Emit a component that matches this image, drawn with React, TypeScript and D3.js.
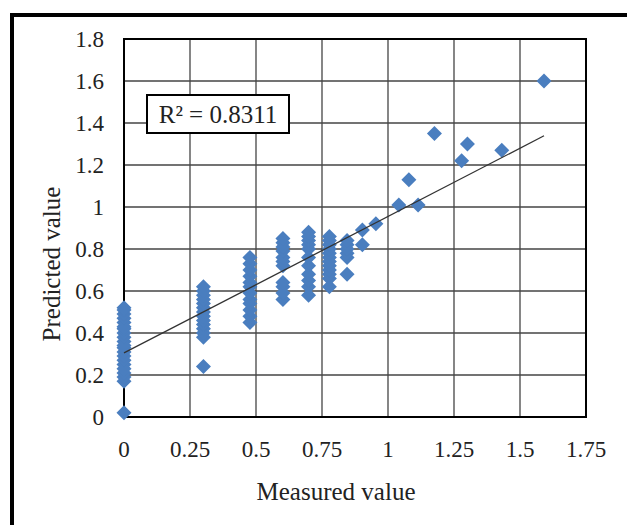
import React from "react";
import * as d3 from "d3";

const xTicks = [0, 0.25, 0.5, 0.75, 1, 1.25, 1.5, 1.75];
const yTicks = [0, 0.2, 0.4, 0.6, 0.8, 1, 1.2, 1.4, 1.6, 1.8];

const measuredLevels = [0, 0.301, 0.477, 0.602, 0.699, 0.778, 0.845, 0.903, 0.954, 1.041, 1.079, 1.114, 1.176, 1.279, 1.301, 1.431, 1.591];
const predictedGroups: number[][] = [
  [0.02, 0.17, 0.19, 0.21, 0.23, 0.25, 0.27, 0.29, 0.31, 0.33, 0.34, 0.36, 0.38, 0.4, 0.42, 0.43, 0.45, 0.47, 0.49, 0.51, 0.52],
  [0.24, 0.38, 0.4, 0.42, 0.44, 0.46, 0.48, 0.5, 0.52, 0.54, 0.56, 0.58, 0.6, 0.62],
  [0.45, 0.48, 0.51, 0.54, 0.56, 0.59, 0.62, 0.64, 0.67, 0.7, 0.73, 0.76],
  [0.56, 0.59, 0.62, 0.64, 0.72, 0.74, 0.76, 0.79, 0.81, 0.83, 0.85],
  [0.58, 0.62, 0.65, 0.68, 0.72, 0.76, 0.8, 0.82, 0.84, 0.86, 0.88],
  [0.62, 0.66, 0.68, 0.7, 0.72, 0.74, 0.76, 0.78, 0.8, 0.82, 0.84, 0.86],
  [0.68, 0.76, 0.78, 0.8, 0.82, 0.84],
  [0.82, 0.89],
  [0.92],
  [1.01],
  [1.13],
  [1.01],
  [1.35],
  [1.22],
  [1.3],
  [1.27],
  [1.6],
];

const trendIntercept = 0.305;
const trendSlope = 0.65;
const trendRange = [0, 1.591];
const r2Label = "R² = 0.8311";

const FONT = "'Liberation Serif', 'Times New Roman', serif";

const diamond = {
  draw(ctx: any, size: number) {
    const r = Math.sqrt(size) / 2;
    ctx.moveTo(0, -r);
    ctx.lineTo(r, 0);
    ctx.lineTo(0, r);
    ctx.lineTo(-r, 0);
    ctx.closePath();
  },
};

export default function App() {
  const W = 627, H = 525;
  const left = 124, right = 586, top = 39, bottom = 417;
  const x = d3.scaleLinear().domain([0, 1.75]).range([left, right]);
  const y = d3.scaleLinear().domain([0, 1.8]).range([bottom, top]);

  const points: { mx: number; py: number }[] = [];
  measuredLevels.forEach((m, i) => predictedGroups[i].forEach((p) => points.push({ mx: m, py: p })));

  const sym = d3.symbol().type(diamond as any).size(15 * 15)();
  const line = d3.line<number>().x((d) => x(d)).y((d) => y(trendIntercept + trendSlope * d));

  return (
    <svg width={W} height={H} style={{ position: "absolute", left: 0, top: 0, background: "#fff" }}>
      <rect x={0} y={0} width={W} height={H} fill="#fff" />
      {/* outer frame */}
      <rect x={12} y={15} width={W + 20} height={H + 20} fill="none" stroke="#000" strokeWidth={4} />
      {/* grid */}
      {xTicks.map((t) => (
        <line key={"gx" + t} x1={x(t)} x2={x(t)} y1={top} y2={bottom} stroke="#444" strokeWidth={1.3} />
      ))}
      {yTicks.map((t) => (
        <line key={"gy" + t} x1={left} x2={right} y1={y(t)} y2={y(t)} stroke="#444" strokeWidth={1.3} />
      ))}
      <rect x={left} y={top} width={right - left} height={bottom - top} fill="none" stroke="#000" strokeWidth={2} />
      {/* tick labels */}
      {yTicks.map((t) => (
        <text key={"ly" + t} x={104} y={y(t)} dy="0.35em" textAnchor="end" fontFamily={FONT} fontSize={23} fill="#222">
          {d3.format("~g")(t)}
        </text>
      ))}
      {xTicks.map((t) => (
        <text key={"lx" + t} x={x(t)} y={457} textAnchor="middle" fontFamily={FONT} fontSize={23} fill="#222">
          {d3.format("~g")(t)}
        </text>
      ))}
      {/* points */}
      {points.map((p, i) => (
        <path key={i} d={sym!} transform={`translate(${x(p.mx)},${y(p.py)})`} fill="#4A7EBF" />
      ))}
      {/* trend line */}
      <path d={line(trendRange)!} fill="none" stroke="#333" strokeWidth={1.3} />
      {/* R2 box */}
      <rect x={147} y={95} width={142} height={38} fill="#fff" stroke="#000" strokeWidth={2} />
      <text x={218} y={123} textAnchor="middle" fontFamily={FONT} fontSize={25} fill="#222">
        {r2Label}
      </text>
      {/* axis titles */}
      <text x={336} y={500} textAnchor="middle" fontFamily={FONT} fontSize={25} fill="#222">
        Measured value
      </text>
      <text transform="translate(60,264) rotate(-90)" textAnchor="middle" fontFamily={FONT} fontSize={25} fill="#222">
        Predicted value
      </text>
    </svg>
  );
}
